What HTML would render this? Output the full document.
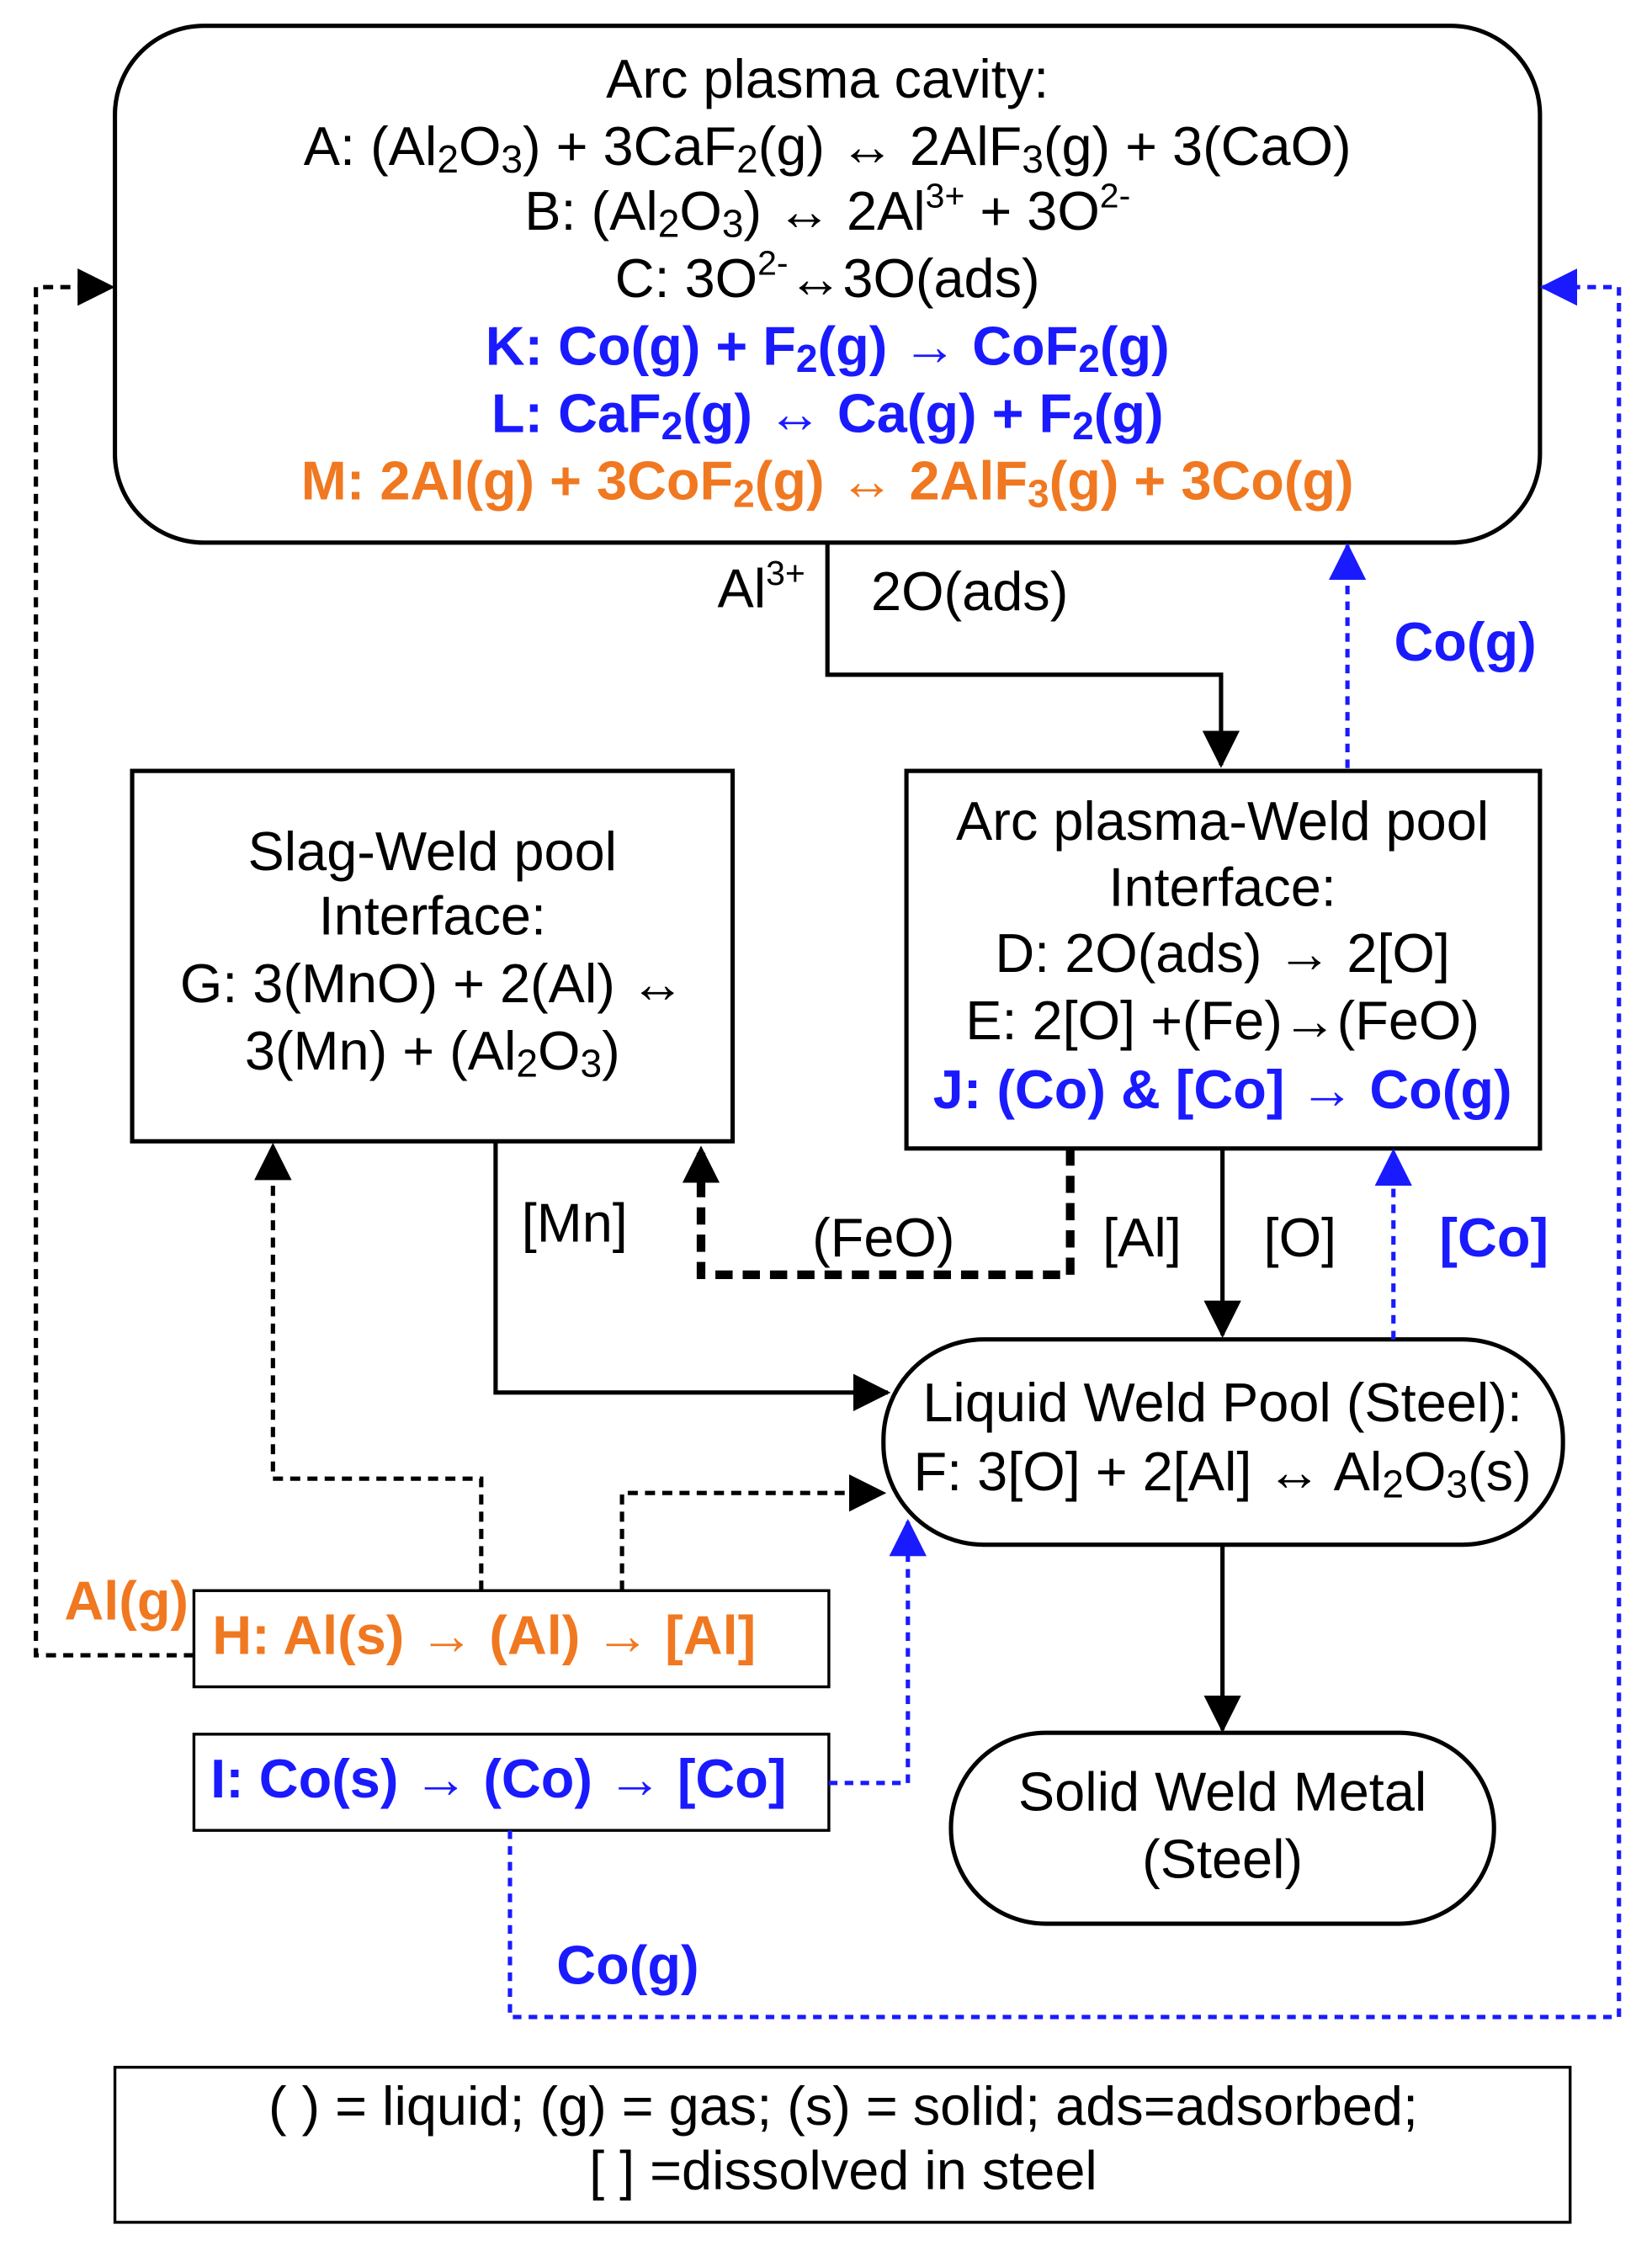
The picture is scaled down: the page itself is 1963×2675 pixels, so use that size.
<!DOCTYPE html>
<html><head><meta charset="utf-8"><style>
html,body{margin:0;padding:0;background:#fff}
svg{display:block}
text{font-family:"Liberation Sans",sans-serif;font-size:38px;text-anchor:middle;dominant-baseline:middle}
.b{font-weight:bold;fill:#1a1aff}
.o{font-weight:bold;fill:#f07820}
</style></head><body>
<svg width="1963" height="2675" viewBox="0 0 1150 1568" preserveAspectRatio="none" xmlns="http://www.w3.org/2000/svg">
<defs>
<marker id="ab" markerWidth="26" markerHeight="26" refX="24" refY="13" orient="auto" markerUnits="userSpaceOnUse" viewBox="0 0 26 26"><path d="M0,0 L26,13 L0,26 z" fill="#1a1aff"/></marker>
<marker id="a" markerWidth="26" markerHeight="26" refX="24" refY="13" orient="auto" markerUnits="userSpaceOnUse" viewBox="0 0 26 26"><path d="M0,0 L26,13 L0,26 z" fill="#000"/></marker>
</defs>
<g fill="none" stroke="#000" stroke-width="3">
<rect x="80" y="18" width="992" height="360" rx="62"/>
<rect x="92" y="537" width="418" height="258"/>
<rect x="631" y="537" width="441" height="263"/>
<rect x="615" y="933" width="473" height="143" rx="70"/>
<rect x="662" y="1207" width="378" height="133" rx="66"/>
<rect x="135" y="1108" width="442" height="67" stroke-width="2"/>
<rect x="135" y="1208" width="442" height="67" stroke-width="2"/>
<rect x="80" y="1440" width="1013" height="108" stroke-width="2"/>
<path d="M576,378 V470 H850 V533" marker-end="url(#a)"/>
<path d="M345,795 V970 H618" marker-end="url(#a)"/>
<path d="M851,800 V930" marker-end="url(#a)"/>
<path d="M851,1076 V1205" marker-end="url(#a)"/>
</g>
<g fill="none" stroke="#000" stroke-width="3" stroke-dasharray="7,5">
<path d="M135,1153 H25 V200 H78" marker-end="url(#a)"/>
<path d="M335,1108 V1030 H190 V798" marker-end="url(#a)"/>
<path d="M433,1108 V1040 H615" marker-end="url(#a)"/>
</g>
<path d="M745,800 V888 H488 V800" fill="none" stroke="#000" stroke-width="6" stroke-dasharray="12,7" marker-end="url(#a)"/>
<g fill="none" stroke="#1a1aff" stroke-width="3" stroke-dasharray="6,5">
<path d="M355,1275 V1405 H1127 V200 H1074" marker-end="url(#ab)"/>
<path d="M938,535 V380" marker-end="url(#ab)"/>
<path d="M970,933 V802" marker-end="url(#ab)"/>
<path d="M577,1242 H632 V1060" marker-end="url(#ab)"/>
</g>
<text x="576" y="58">Arc plasma cavity:</text>
<text x="576" y="105">A: (Al<tspan font-size="27" dy="8">2</tspan><tspan dy="-8">O</tspan><tspan font-size="27" dy="8">3</tspan><tspan dy="-8">) + 3CaF</tspan><tspan font-size="27" dy="8">2</tspan><tspan dy="-8">(g) ↔ 2AlF</tspan><tspan font-size="27" dy="8">3</tspan><tspan dy="-8">(g) + 3(CaO)</tspan></text>
<text x="576" y="150">B: (Al<tspan font-size="27" dy="8">2</tspan><tspan dy="-8">O</tspan><tspan font-size="27" dy="8">3</tspan><tspan dy="-8">) ↔ 2Al</tspan><tspan font-size="24" dy="-12">3+</tspan><tspan dy="12"> + 3O</tspan><tspan font-size="24" dy="-12">2-</tspan></text>
<text x="576" y="197">C: 3O<tspan font-size="24" dy="-12">2-</tspan><tspan dy="12">↔3O(ads)</tspan></text>
<text x="576" y="244" class="b">K: Co(g) + F<tspan font-size="27" dy="8">2</tspan><tspan dy="-8">(g) → CoF</tspan><tspan font-size="27" dy="8">2</tspan><tspan dy="-8">(g)</tspan></text>
<text x="576" y="291" class="b">L: CaF<tspan font-size="27" dy="8">2</tspan><tspan dy="-8">(g) ↔ Ca(g) + F</tspan><tspan font-size="27" dy="8">2</tspan><tspan dy="-8">(g)</tspan></text>
<text x="576" y="338" class="o">M: 2Al(g) + 3CoF<tspan font-size="27" dy="8">2</tspan><tspan dy="-8">(g) ↔  2AlF</tspan><tspan font-size="27" dy="8">3</tspan><tspan dy="-8">(g) + 3Co(g)</tspan></text>
<text x="530" y="413">Al<tspan font-size="24" dy="-12">3+</tspan></text>
<text x="675" y="415">2O(ads)</text>
<text x="1020" y="450" class="b">Co(g)</text>
<text x="301" y="596">Slag-Weld pool</text>
<text x="301" y="641">Interface:</text>
<text x="301" y="688">G: 3(MnO) + 2(Al) ↔</text>
<text x="301" y="735">3(Mn) + (Al<tspan font-size="27" dy="8">2</tspan><tspan dy="-8">O</tspan><tspan font-size="27" dy="8">3</tspan><tspan dy="-8">)</tspan></text>
<text x="851" y="575">Arc plasma-Weld pool</text>
<text x="851" y="621">Interface:</text>
<text x="851" y="667">D: 2O(ads) → 2[O]</text>
<text x="851" y="714">E: 2[O] +(Fe)→(FeO)</text>
<text x="851" y="762" class="b">J: (Co) &amp; [Co] → Co(g)</text>
<text x="400" y="855">[Mn]</text>
<text x="615" y="865">(FeO)</text>
<text x="795" y="865">[Al]</text>
<text x="905" y="865">[O]</text>
<text x="1040" y="865" class="b">[Co]</text>
<text x="851" y="980">Liquid Weld Pool (Steel):</text>
<text x="851" y="1028">F: 3[O] + 2[Al] ↔ Al<tspan font-size="27" dy="8">2</tspan><tspan dy="-8">O</tspan><tspan font-size="27" dy="8">3</tspan><tspan dy="-8">(s)</tspan></text>
<text x="851" y="1251">Solid Weld Metal</text>
<text x="851" y="1298">(Steel)</text>
<text x="88" y="1118" class="o">Al(g)</text>
<text x="337" y="1142" class="o">H: Al(s) → (Al) → [Al]</text>
<text x="347" y="1242" class="b">I: Co(s) → (Co) → [Co]</text>
<text x="437" y="1372" class="b">Co(g)</text>
<text x="587" y="1470">( ) = liquid; (g) = gas; (s) = solid; ads=adsorbed;</text>
<text x="587" y="1515">[ ] =dissolved in steel</text>
</svg>
</body></html>
